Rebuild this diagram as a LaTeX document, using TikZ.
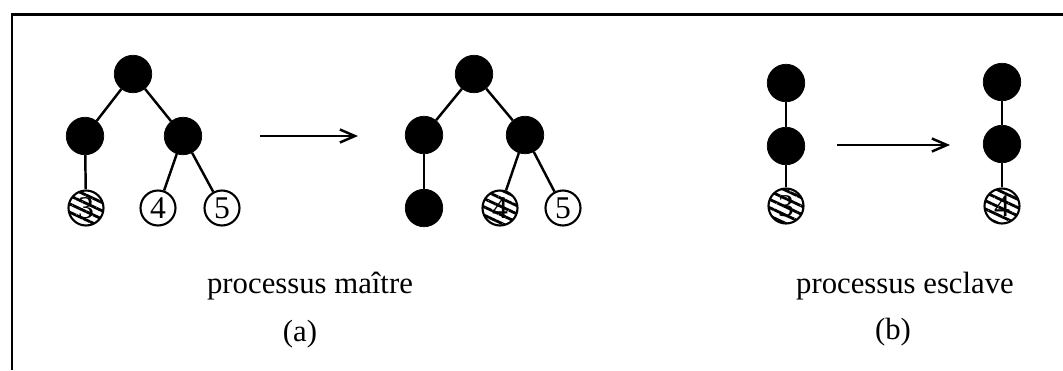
\documentclass[tikz,border=0pt]{standalone}
\usepackage{fontspec}
\setmainfont{Liberation Serif}
\usetikzlibrary{arrows.meta,patterns.meta}

\begin{document}
\begin{tikzpicture}[x=0.02cm, y=-0.02cm,
  full/.style={draw, fill=black, circle, minimum size=0.75cm, inner sep=0pt},
  leaf/.style={draw, line width=1.2pt, circle, minimum size=0.70cm, inner sep=0pt, font=\fontsize{18}{18}\selectfont},
  hatched/.style={leaf, pattern={Lines[angle=-25, distance=0.15cm, line width=1.6pt]}},
  edge/.style={line width=1.4pt},
  move/.style={line width=1.4pt, -{Straight Barb[length=0.3cm, width=0.26cm, line width=1.4pt]}},
  caption/.style={font=\fontsize{17.5}{20}\selectfont}]

\useasboundingbox (0,0) rectangle (1063,370);

% frame
\draw[line width=1.7pt] (12,370) -- (12,14) -- (1063,14);

% (a) tree before
\node[full] (a0) at (133, 74) {};
\node[full] (a1) at (85, 136) {};
\node[full] (a2) at (183, 136) {};
\node[hatched] (a3) at (86, 208) {3};
\node[leaf] (a4) at (158, 208) {4};
\node[leaf] (a5) at (222, 208) {5};

\draw[edge] (a0) -- (a1);
\draw[edge] (a0) -- (a2);
\draw[edge] (a1) -- (a3);
\draw[edge] (a2) -- (a4);
\draw[edge] (a2) -- (a5);

% (a) tree after
\node[full] (b0) at (474, 74) {};
\node[full] (b1) at (424, 135) {};
\node[full] (b2) at (525, 135) {};
\node[full] (b3) at (424, 208) {};
\node[hatched] (b4) at (500, 208) {4};
\node[leaf] (b5) at (563, 208) {5};

\draw[edge] (b0) -- (b1);
\draw[edge] (b0) -- (b2);
\draw[edge] (b1) -- (b3);
\draw[edge] (b2) -- (b4);
\draw[edge] (b2) -- (b5);

% (b) chain before
\node[full] (c0) at (786, 83) {};
\node[full] (c1) at (786, 146) {};
\node[hatched] (c2) at (786, 206) {3};

\draw[edge] (c0) -- (c1);
\draw[edge] (c1) -- (c2);

% (b) chain after
\node[full] (d0) at (1002, 82) {};
\node[full] (d1) at (1002, 144) {};
\node[hatched] (d2) at (1002, 206) {4};

\draw[edge] (d0) -- (d1);
\draw[edge] (d1) -- (d2);

% arrows
\coordinate (ta) at (260, 136);
\coordinate (ha) at (358, 136);
\coordinate (tb) at (837, 145);
\coordinate (hb) at (950, 145);
\draw[move] (ta) -- (ha);
\draw[move] (tb) -- (hb);

% captions
\node[caption] (cap_a) at (310, 286) {processus maître};
\node[caption] (lab_a) at (300, 334) {(a)};
\node[caption] (cap_b) at (905, 286) {processus esclave};
\node[caption] (lab_b) at (893, 332) {(b)};

\end{tikzpicture}
\end{document}
